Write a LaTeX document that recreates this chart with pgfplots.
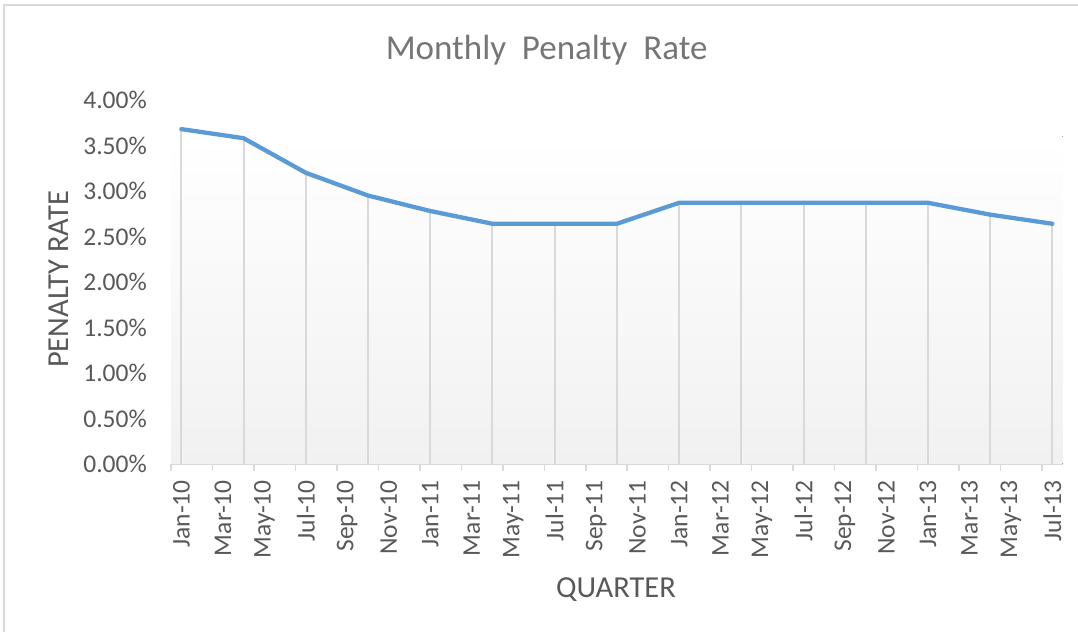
\documentclass[border=0pt]{standalone}
\usepackage{pgfplots}
\pgfplotsset{compat=1.18}
\usepackage{fontspec}
\setmainfont{Carlito}
\definecolor{txt}{HTML}{595959}
\definecolor{ttl}{HTML}{767676}
\definecolor{ln}{HTML}{5B9BD5}
\definecolor{grd}{HTML}{D9D9D9}
\definecolor{shd}{HTML}{F1F1F1}
\begin{document}
\begin{tikzpicture}[x=1bp,y=1bp]
\useasboundingbox (0,0) rectangle (1078,632);
\fill[white] (0,0) rectangle (1078,632);
\draw[grd, line width=1.5bp] (4,0) -- (4,627) -- (1078,627);
\begin{axis}[
  at={(171bp,168bp)}, anchor=south west,
  scale only axis, width=891.7bp, height=364bp,
  xmin=0, xmax=43, ymin=0, ymax=4,
  axis x line*=bottom, axis y line*=left,
  x axis line style={grd, line width=1.5bp, -},
  y axis line style={draw=none, -},
  tick align=outside,
  major tick length=0pt,
  xtick={0.5,2.5,...,42.5},
  xticklabels={Jan-10,Mar-10,May-10,Jul-10,Sep-10,Nov-10,Jan-11,Mar-11,May-11,Jul-11,Sep-11,Nov-11,Jan-12,Mar-12,May-12,Jul-12,Sep-12,Nov-12,Jan-13,Mar-13,May-13,Jul-13},
  extra x ticks={0,2,...,42},
  extra x tick labels={},
  extra x tick style={major tick length=7bp, tick style={grd, line width=1.5bp}},
  xticklabel style={rotate=90, anchor=east, inner sep=0pt, text=txt, font=\fontsize{25.5bp}{30bp}\selectfont},
  xticklabel shift=16bp,
  ytick={0,0.5,...,4},
  /pgf/number format/assume math mode=true,
  yticklabel={\pgfmathprintnumber[fixed,fixed zerofill,precision=2]{\tick}\%},
  yticklabel style={anchor=east, inner sep=0pt, text=txt, font=\fontsize{25.5bp}{30bp}\selectfont},
  yticklabel shift=24bp,
  ytick style={draw=none},
  xlabel={QUARTER},
  xlabel style={at={(axis description cs:0.499,-0.367)}, anchor=base, text=txt, font=\fontsize{30.5bp}{36bp}\selectfont},
  ylabel={PENALTY RATE},
  ylabel style={at={(axis description cs:-0.1155,0.507)}, anchor=base, text=txt, font=\fontsize{30.5bp}{36bp}\selectfont},
  title={Monthly\ \ Penalty\ \ Rate},
  title style={at={(axis description cs:0.4213,1.0953)}, anchor=base, text=ttl, font=\fontsize{35bp}{42bp}\selectfont},
  clip=false,
]
\fill[top color=white, bottom color=shd] (axis cs:0,0) rectangle (axis cs:43,3.6);
\addplot[ycomb, grd, line width=2bp, mark=none] coordinates {
(0.5,3.68) (3.5,3.58) (6.5,3.20) (9.5,2.95) (12.5,2.78) (15.5,2.64) (18.5,2.64) (21.5,2.64)
(24.5,2.87) (27.5,2.87) (30.5,2.87) (33.5,2.87) (36.5,2.87) (39.5,2.74) (42.5,2.64)};
\addplot[ln, line width=4.3bp, mark=none, line join=round, line cap=round] coordinates {
(0.5,3.68) (3.5,3.58) (6.5,3.20) (9.5,2.95) (12.5,2.78) (15.5,2.64) (18.5,2.64) (21.5,2.64)
(24.5,2.87) (27.5,2.87) (30.5,2.87) (33.5,2.87) (36.5,2.87) (39.5,2.74) (42.5,2.64)};
\end{axis}
\end{tikzpicture}
\end{document}
